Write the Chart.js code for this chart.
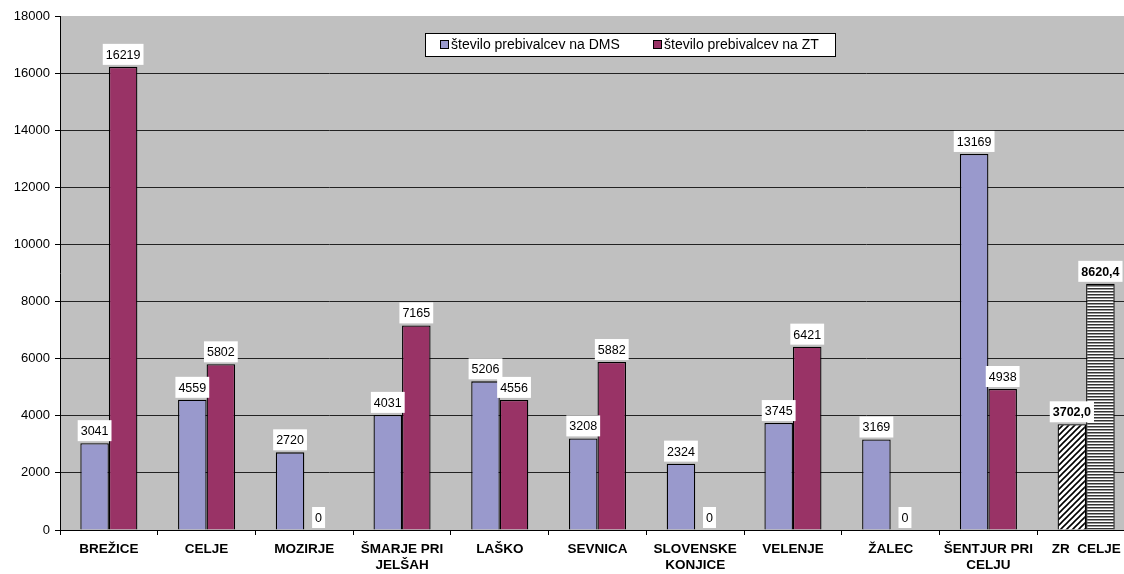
<!DOCTYPE html>
<html>
<head>
<meta charset="utf-8">
<script src="https://cdn.jsdelivr.net/npm/chart.js@4"></script>
<style>
  html, body { margin: 0; padding: 0; background: #fff; overflow: hidden; }
  #wrap { width: 1135px; height: 574px; }
</style>
</head>
<body>
<div id="wrap"><canvas id="chart"></canvas></div>
<script>
// podatki
const kategorije = [
  "BREŽICE", "CELJE", "MOZIRJE", ["ŠMARJE PRI", "JELŠAH"], "LAŠKO", "SEVNICA",
  ["SLOVENSKE", "KONJICE"], "VELENJE", "ŽALEC", ["ŠENTJUR PRI", "CELJU"], "ZR  CELJE"
];
const serijaDMS = "število prebivalcev na DMS";
const serijaZT = "število prebivalcev na ZT";
const vrednostiDMS = [3041, 4559, 2720, 4031, 5206, 3208, 2324, 3745, 3169, 13169, 3702.0];
const vrednostiZT = [16219, 5802, 0, 7165, 4556, 5882, 0, 6421, 0, 4938, 8620.4];
const oznakeDMS = ["3041", "4559", "2720", "4031", "5206", "3208", "2324", "3745", "3169", "13169", "3702,0"];
const oznakeZT = ["16219", "5802", "0", "7165", "4556", "5882", "0", "6421", "0", "4938", "8620,4"];
const yTicks = [0, 2000, 4000, 6000, 8000, 10000, 12000, 14000, 16000, 18000];

const FONT = "Arial, 'Liberation Sans', sans-serif";

// vzorci za zadnjo kategorijo
function makePattern(kind) {
  const c = document.createElement("canvas");
  c.width = 6; c.height = 6;
  const g = c.getContext("2d");
  g.fillStyle = "#fff";
  g.fillRect(0, 0, 6, 6);
  g.strokeStyle = "#000";
  if (kind === "diag") {
    g.lineWidth = 1.6;
    g.beginPath();
    g.moveTo(-1, 7); g.lineTo(7, -1);
    g.moveTo(-4, 4); g.lineTo(4, -4);
    g.moveTo(2, 10); g.lineTo(10, 2);
    g.stroke();
  } else {
    g.fillStyle = "#333";
    g.fillRect(0, 0, 6, 1.5);
    g.fillRect(0, 3, 6, 1.5);
  }
  return g.createPattern(c, "repeat");
}

const barveDMS = vrednostiDMS.map((v, i) => i === 10 ? makePattern("diag") : "#9999CC");
const barveZT = vrednostiZT.map((v, i) => i === 10 ? makePattern("horiz") : "#993366");

const ozadjePlugin = {
  id: "ozadje",
  beforeDraw(chart) {
    const { ctx, chartArea: a } = chart;
    ctx.save();
    ctx.fillStyle = "#C0C0C0";
    ctx.fillRect(a.left, a.top, a.right - a.left, a.bottom - a.top);
    ctx.restore();
  }
};

const oznakePlugin = {
  id: "oznake",
  afterDatasetsDraw(chart) {
    const ctx = chart.ctx;
    const vse = [oznakeDMS, oznakeZT];
    ctx.save();
    chart.data.datasets.forEach((ds, di) => {
      const meta = chart.getDatasetMeta(di);
      meta.data.forEach((bar, i) => {
        const txt = vse[di][i];
        const bold = i === 10;
        ctx.font = (bold ? "bold " : "") + "12.5px " + FONT;
        const w = ctx.measureText(txt).width + 6;
        const h = 21;
        const x = bar.x - w / 2;
        const y = bar.y - 2 - h;
        ctx.fillStyle = "#fff";
        ctx.fillRect(x, y, w, h);
        ctx.fillStyle = "#000";
        ctx.textAlign = "center";
        ctx.textBaseline = "middle";
        ctx.fillText(txt, bar.x, y + h / 2 + 1);
      });
    });
    ctx.restore();
  }
};

const legendaPlugin = {
  id: "legenda",
  afterDraw(chart) {
    const ctx = chart.ctx;
    ctx.save();
    ctx.fillStyle = "#fff";
    ctx.fillRect(425.5, 33.5, 410, 23);
    ctx.strokeStyle = "#000";
    ctx.lineWidth = 1;
    ctx.strokeRect(425.5, 33.5, 410, 23);
    ctx.font = "14px " + FONT;
    ctx.textBaseline = "middle";
    ctx.textAlign = "left";
    const items = [[serijaDMS, "#9999CC", 440], [serijaZT, "#993366", 653]];
    items.forEach(([t, c, x]) => {
      ctx.fillStyle = c;
      ctx.fillRect(x + 0.5, 40.5, 8, 8);
      ctx.strokeRect(x + 0.5, 40.5, 8, 8);
      ctx.fillStyle = "#000";
      ctx.fillText(t, x + 11, 45.5);
    });
    ctx.restore();
  }
};

new Chart(document.getElementById("chart"), {
  type: "bar",
  data: {
    labels: kategorije,
    datasets: [
      { label: serijaDMS, data: vrednostiDMS, backgroundColor: barveDMS, borderColor: "#000", borderWidth: 1.3 },
      { label: serijaZT, data: vrednostiZT, backgroundColor: barveZT, borderColor: "#000", borderWidth: 1.3 }
    ]
  },
  options: {
    responsive: true,
    maintainAspectRatio: false,
    animation: false,
    layout: { padding: { top: 16, left: 0, right: 0, bottom: 0 } },
    datasets: { bar: { categoryPercentage: 0.584, barPercentage: 1.0 } },
    plugins: {
      legend: { display: false },
      tooltip: { enabled: false }
    },
    scales: {
      x: {
        offset: true,
        grid: { offset: true, drawOnChartArea: false, drawTicks: true, tickLength: 5, color: "#000" },
        border: { color: "#000", width: 1 },
        ticks: { color: "#000", font: { family: FONT, size: 13.5, weight: "bold" }, maxRotation: 0, autoSkip: false, padding: 6 },
        afterFit(scale) { scale.height = 44; }
      },
      y: {
        min: 0,
        max: 18000,
        afterBuildTicks(scale) { scale.ticks = yTicks.map(v => ({ value: v })); },
        grid: {
          color: (c) => (c.tick && c.tick.value === 18000) ? "rgba(0,0,0,0)" : "#222",
          lineWidth: 1, drawTicks: true, tickLength: 5, tickColor: "#000"
        },
        border: { color: "#000", width: 1 },
        ticks: { color: "#000", font: { family: FONT, size: 13 }, padding: 5, callback: (v) => String(v) },
        afterFit(scale) { scale.width = 60; }
      }
    }
  },
  plugins: [ozadjePlugin, oznakePlugin, legendaPlugin]
});
</script>
</body>
</html>
